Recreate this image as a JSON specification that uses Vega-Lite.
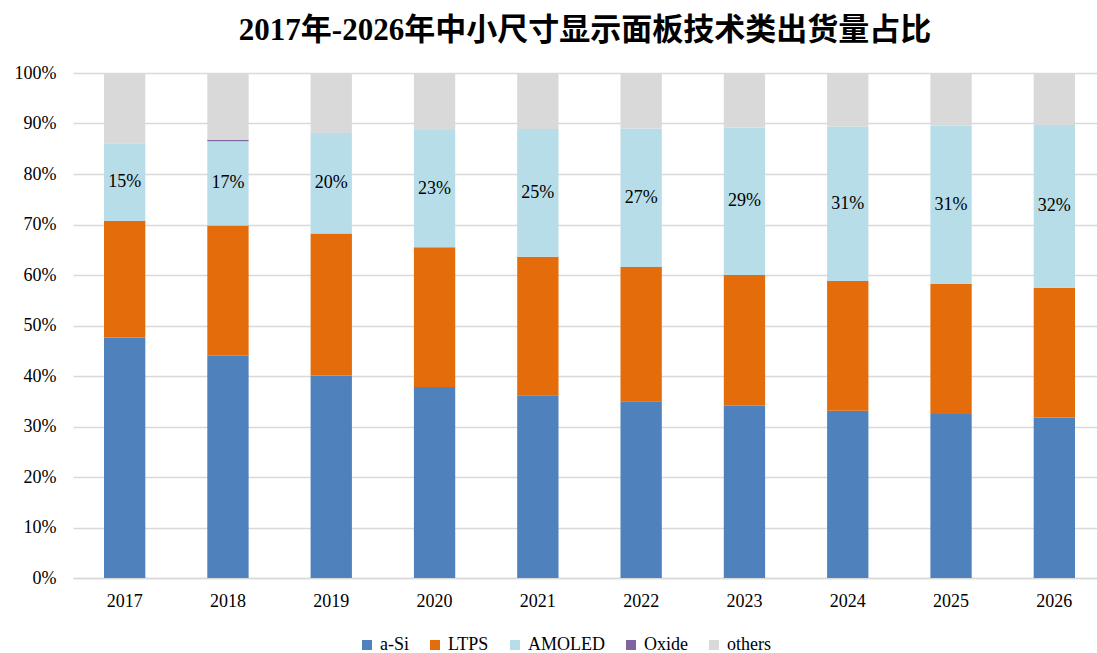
{
  "$schema": "https://vega.github.io/schema/vega-lite/v6.json",
  "autosize": "none",
  "width": 1024,
  "height": 505,
  "padding": {"left": 73, "top": 73, "right": 0, "bottom": 75},
  "background": "white",
  "title": {
    "text": "2017年-2026年中小尺寸显示面板技术类出货量占比",
    "font": "Liberation Serif, Noto Sans CJK SC",
    "fontSize": 31,
    "fontWeight": "bold",
    "color": "#000000",
    "anchor": "middle",
    "offset": 17
  },
  "config": {
    "view": {"stroke": null},
    "font": "Liberation Serif"
  },
  "data": {
    "values": [
      {"year": "2017", "series": "a-Si", "rank": 1, "share": 0.476},
      {"year": "2017", "series": "LTPS", "rank": 2, "share": 0.231},
      {"year": "2017", "series": "AMOLED", "rank": 3, "share": 0.154},
      {"year": "2017", "series": "Oxide", "rank": 4, "share": 0.0},
      {"year": "2017", "series": "others", "rank": 5, "share": 0.139},
      {"year": "2018", "series": "a-Si", "rank": 1, "share": 0.440},
      {"year": "2018", "series": "LTPS", "rank": 2, "share": 0.258},
      {"year": "2018", "series": "AMOLED", "rank": 3, "share": 0.167},
      {"year": "2018", "series": "Oxide", "rank": 4, "share": 0.003},
      {"year": "2018", "series": "others", "rank": 5, "share": 0.132},
      {"year": "2019", "series": "a-Si", "rank": 1, "share": 0.401},
      {"year": "2019", "series": "LTPS", "rank": 2, "share": 0.281},
      {"year": "2019", "series": "AMOLED", "rank": 3, "share": 0.199},
      {"year": "2019", "series": "Oxide", "rank": 4, "share": 0.0},
      {"year": "2019", "series": "others", "rank": 5, "share": 0.119},
      {"year": "2020", "series": "a-Si", "rank": 1, "share": 0.378},
      {"year": "2020", "series": "LTPS", "rank": 2, "share": 0.277},
      {"year": "2020", "series": "AMOLED", "rank": 3, "share": 0.232},
      {"year": "2020", "series": "Oxide", "rank": 4, "share": 0.0},
      {"year": "2020", "series": "others", "rank": 5, "share": 0.113},
      {"year": "2021", "series": "a-Si", "rank": 1, "share": 0.362},
      {"year": "2021", "series": "LTPS", "rank": 2, "share": 0.274},
      {"year": "2021", "series": "AMOLED", "rank": 3, "share": 0.253},
      {"year": "2021", "series": "Oxide", "rank": 4, "share": 0.0},
      {"year": "2021", "series": "others", "rank": 5, "share": 0.111},
      {"year": "2022", "series": "a-Si", "rank": 1, "share": 0.350},
      {"year": "2022", "series": "LTPS", "rank": 2, "share": 0.266},
      {"year": "2022", "series": "AMOLED", "rank": 3, "share": 0.274},
      {"year": "2022", "series": "Oxide", "rank": 4, "share": 0.0},
      {"year": "2022", "series": "others", "rank": 5, "share": 0.110},
      {"year": "2023", "series": "a-Si", "rank": 1, "share": 0.341},
      {"year": "2023", "series": "LTPS", "rank": 2, "share": 0.259},
      {"year": "2023", "series": "AMOLED", "rank": 3, "share": 0.292},
      {"year": "2023", "series": "Oxide", "rank": 4, "share": 0.0},
      {"year": "2023", "series": "others", "rank": 5, "share": 0.108},
      {"year": "2024", "series": "a-Si", "rank": 1, "share": 0.331},
      {"year": "2024", "series": "LTPS", "rank": 2, "share": 0.257},
      {"year": "2024", "series": "AMOLED", "rank": 3, "share": 0.306},
      {"year": "2024", "series": "Oxide", "rank": 4, "share": 0.0},
      {"year": "2024", "series": "others", "rank": 5, "share": 0.106},
      {"year": "2025", "series": "a-Si", "rank": 1, "share": 0.325},
      {"year": "2025", "series": "LTPS", "rank": 2, "share": 0.257},
      {"year": "2025", "series": "AMOLED", "rank": 3, "share": 0.314},
      {"year": "2025", "series": "Oxide", "rank": 4, "share": 0.0},
      {"year": "2025", "series": "others", "rank": 5, "share": 0.104},
      {"year": "2026", "series": "a-Si", "rank": 1, "share": 0.318},
      {"year": "2026", "series": "LTPS", "rank": 2, "share": 0.257},
      {"year": "2026", "series": "AMOLED", "rank": 3, "share": 0.322},
      {"year": "2026", "series": "Oxide", "rank": 4, "share": 0.0},
      {"year": "2026", "series": "others", "rank": 5, "share": 0.103}
    ]
  },
  "encoding": {
    "x": {
      "field": "year",
      "type": "nominal",
      "scale": {"paddingInner": 0.6, "paddingOuter": 0.2565, "align": 0.585},
      "axis": {
        "title": null,
        "labelAngle": 0,
        "labelFont": "Liberation Serif",
        "labelFontSize": 18,
        "labelColor": "#000000",
        "labelPadding": 14,
        "ticks": false,
        "domainColor": "#D9D9D9",
        "domainWidth": 1.5,
        "grid": false
      }
    }
  },
  "layer": [
    {
      "mark": {"type": "bar"},
      "encoding": {
        "y": {
          "field": "share",
          "type": "quantitative",
          "stack": "zero",
          "scale": {"domain": [0, 1], "nice": false},
          "axis": {
            "title": null,
            "format": ".0%",
            "values": [0, 0.1, 0.2, 0.3, 0.4, 0.5, 0.6, 0.7, 0.8, 0.9, 1.0],
            "labelFont": "Liberation Serif",
            "labelFontSize": 18,
            "labelColor": "#000000",
            "labelPadding": 17,
            "ticks": false,
            "domain": false,
            "grid": true,
            "gridColor": "#D9D9D9",
            "gridWidth": 1.5
          }
        },
        "order": {"field": "rank", "type": "quantitative", "sort": "ascending"},
        "color": {
          "field": "series",
          "type": "nominal",
          "scale": {
            "domain": ["a-Si", "LTPS", "AMOLED", "Oxide", "others"],
            "range": ["#4F81BD", "#E46C0A", "#B7DDE8", "#8064A2", "#D9D9D9"]
          },
          "legend": {
            "title": null,
            "orient": "none",
            "direction": "horizontal",
            "legendX": 285,
            "legendY": 563,
            "symbolType": "square",
            "symbolSize": 100,
            "symbolStrokeWidth": 0,
            "labelFont": "Liberation Serif",
            "labelFontSize": 18,
            "labelColor": "#000000",
            "labelOffset": 4,
            "columnPadding": 17
          }
        }
      }
    },
    {
      "transform": [
        {"stack": "share", "groupby": ["year"], "sort": [{"field": "rank", "order": "ascending"}], "as": ["s0", "s1"]},
        {"filter": "datum.series === 'AMOLED'"},
        {"calculate": "(datum.s0 + datum.s1) / 2", "as": "mid"}
      ],
      "mark": {"type": "text", "font": "Liberation Serif", "fontSize": 18, "color": "#000000", "baseline": "middle"},
      "encoding": {
        "y": {"field": "mid", "type": "quantitative", "stack": null},
        "text": {"field": "share", "type": "quantitative", "format": ".0%"}
      }
    }
  ]
}
